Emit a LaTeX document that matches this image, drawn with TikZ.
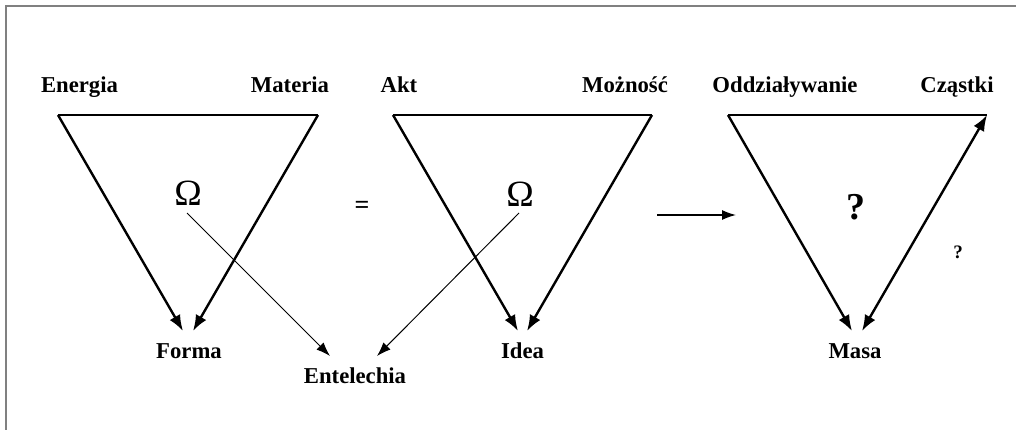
\documentclass[tikz,border=0pt]{standalone}
\usepackage{fontspec}
\setmainfont{Liberation Serif}
\usetikzlibrary{arrows.meta}
\begin{document}
\begin{tikzpicture}[x=1pt,y=-1pt,
  lbl/.style={font=\fontsize{22.7}{26}\selectfont\bfseries, anchor=base, inner sep=0pt},
  omega/.style={font=\fontsize{37}{40}\selectfont, inner sep=0pt},
  thick line/.style={line width=2.4pt, line join=miter},
  thickarrow/.style={line width=2.4pt, -{Latex[length=16pt,width=12pt]}},
  thinarrow/.style={line width=1pt, -{Latex[length=14pt,width=10pt]}},
  frameline/.style={draw=black!50, line width=1.5pt}
  ]
\useasboundingbox (0,0) rectangle (1016,430);
\draw[frameline] (6,430) -- (6,6) -- (1016,6);

% ---- triangle 1
\coordinate (t1l) at (58,115);
\coordinate (t1r) at (318,115);
\coordinate (t1a) at (183,331);
\coordinate (t1b) at (193,331);
\node[lbl] (energia) at (79.5,93) {Energia};
\node[lbl] (materia) at (290,93) {Materia};
\node[lbl] (forma) at (189,358) {Forma};
\node[omega] (om1) at (188,193) {Ω};
\draw[thick line] (t1r) -- (t1l);
\draw[thickarrow] (t1l) -- (t1a);
\draw[thickarrow] (t1r) -- (t1b);

% ---- triangle 2
\coordinate (t2l) at (393,115);
\coordinate (t2r) at (652,115);
\coordinate (t2a) at (518,331);
\coordinate (t2b) at (527,331);
\node[lbl] (akt) at (399,93) {Akt};
\node[lbl] (moznosc) at (625,93) {Możność};
\node[lbl] (idea) at (522.5,358) {Idea};
\node[omega] (om2) at (520,194) {Ω};
\draw[thick line] (t2r) -- (t2l);
\draw[thickarrow] (t2l) -- (t2a);
\draw[thickarrow] (t2r) -- (t2b);

% ---- Entelechia
\node[lbl] (entel) at (355,383) {Entelechia};
\coordinate (o1s) at (187,213);
\coordinate (o2s) at (519,213);
\coordinate (e1) at (330,356);
\coordinate (e2) at (377,356);
\draw[thinarrow] (o1s) -- (e1);
\draw[thinarrow] (o2s) -- (e2);

% ---- equals and arrow
\node[font=\fontsize{26}{28}\selectfont\bfseries, inner sep=0pt] (eq) at (362,207) {=};
\coordinate (ar1) at (657,215);
\coordinate (ar2) at (736,215);
\draw[line width=1.3pt, -{Latex[length=14pt,width=10pt]}] (ar1) -- (ar2);

% ---- triangle 3
\coordinate (t3l) at (728,115);
\coordinate (t3r) at (987,115);
\coordinate (t3a) at (852,331);
\coordinate (t3b) at (862,331);
\node[lbl] (oddz) at (785,93) {Oddziaływanie};
\node[lbl] (czastki) at (957,93) {Cząstki};
\node[lbl] (masa) at (855,358) {Masa};
\node[font=\fontsize{38}{40}\selectfont\bfseries, inner sep=0pt] (q1) at (856,207) {?};
\node[font=\fontsize{19}{22}\selectfont\bfseries, inner sep=0pt] (q2) at (958,252) {?};
\draw[thick line] (t3l) -- (t3r);
\draw[thickarrow] (t3l) -- (t3a);
\draw[line width=2.4pt, {Latex[length=16pt,width=12pt]}-{Latex[length=16pt,width=12pt]}] (t3b) -- (t3r);
\end{tikzpicture}
\end{document}
